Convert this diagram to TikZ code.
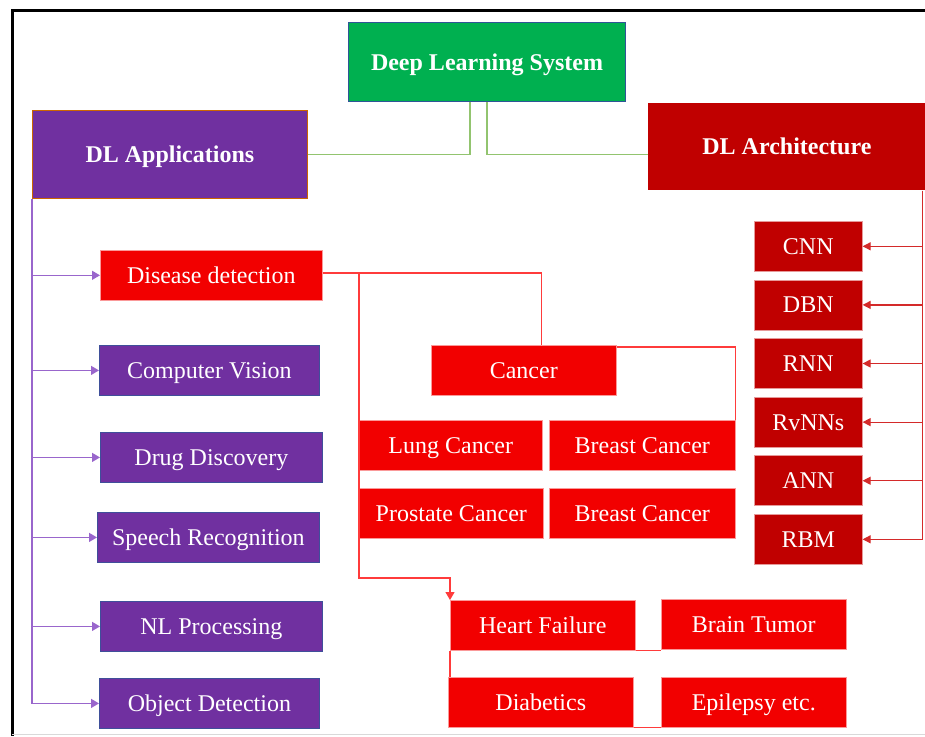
\documentclass[tikz,border=0pt]{standalone}
\usepackage{fontspec}
\setmainfont{Liberation Serif}
\usepackage{xcolor}
\usepackage{tikz}
\usetikzlibrary{positioning, arrows.meta}
\definecolor{sysGreen}{HTML}{00B050}
\definecolor{sysEdge}{HTML}{2F5597}
\definecolor{sysLine}{HTML}{92C46F}
\definecolor{appPurple}{HTML}{7030A0}
\definecolor{appEdge}{HTML}{3F4F9A}
\definecolor{appLine}{HTML}{9966CC}
\definecolor{archRed}{HTML}{C00000}
\definecolor{archLine}{HTML}{D42A2A}
\definecolor{disRed}{HTML}{F20000}
\definecolor{disLine}{HTML}{FF3B3B}

\tikzset{
  box/.style={anchor=north west, text=white, inner sep=1pt, text height=10pt, text depth=2pt, font=\fontsize{12}{14}\selectfont},
  headbox/.style={box, font=\fontsize{12}{14}\selectfont\bfseries},
  appbox/.style={box, fill=appPurple, draw=appEdge, line width=0.4pt, minimum width=111pt, minimum height=25pt},
  disbox/.style={box, fill=disRed, draw=disRed!40, line width=0.3pt, minimum width=92.5pt, minimum height=25pt},
  archbox/.style={box, fill=archRed, draw=archRed!40, line width=0.3pt, minimum width=54pt, minimum height=25pt},
  sysline/.style={draw=sysLine, line width=0.9pt},
  appline/.style={draw=appLine, line width=0.7pt, -{Triangle[width=4.5pt, length=4pt]}},
  disline/.style={draw=disLine, line width=0.6pt},
  archline/.style={draw=archLine, line width=0.6pt, -{Triangle[width=4pt, length=4pt]}}
}

\begin{document}
\begin{tikzpicture}[x=0.5pt, y=-0.5pt, node distance=4pt]
\useasboundingbox (0,0) rectangle (925,736);
\draw[line width=1.5pt] (12,736) -- (12,10) -- (925,10);
\draw[black!15, line width=0.4pt] (12,734) -- (925,734);

\node[headbox, fill=sysGreen, draw=sysEdge, line width=0.5pt, minimum width=138.5pt, minimum height=39.5pt] at (348,22)
  (sys) {Deep Learning System};
\node[headbox, fill=appPurple, draw=orange!80!black, line width=0.4pt, minimum width=137.5pt, minimum height=44pt] at (32,110)
  (apps) {DL Applications};
\node[headbox, fill=archRed, minimum width=138.5pt, minimum height=43.5pt] at (648,103)
  (arch) {DL Architecture};

\node[disbox, minimum width=111pt] at (100,250) (disease) {Disease detection};
\node[appbox, minimum width=110pt] at (99,345) (vision) {Computer Vision};
\node[appbox] at (100,432) (drug) {Drug Discovery};
\node[appbox] at (97,512) (speech) {Speech Recognition};
\node[appbox] at (100,601) (nlp) {NL Processing};
\node[appbox, minimum width=110pt] at (99,678) (objdet) {Object Detection};

\node[archbox] at (754,221) (cnn) {CNN};
\node[archbox, below=of cnn] (dbn) {DBN};
\node[archbox, below=of dbn] (rnn) {RNN};
\node[archbox, below=of rnn] (rvnn) {RvNNs};
\node[archbox, below=of rvnn] (ann) {ANN};
\node[archbox, below=of ann] (rbm) {RBM};

\node[disbox] at (431,345) (cancer) {Cancer};
\node[disbox, minimum width=91.5pt] at (359,420) (lung) {Lung Cancer};
\node[disbox, minimum width=93pt] at (549,420) (breastA) {Breast Cancer};
\node[disbox, minimum width=92pt] at (359,488) (prostate) {Prostate Cancer};
\node[disbox, minimum width=93pt] at (549,488) (breastB) {Breast Cancer};
\node[disbox] at (450,600) (heart) {Heart Failure};
\node[disbox] at (661,599) (brain) {Brain Tumor};
\node[disbox] at (448,677) (diab) {Diabetics};
\node[disbox] at (661,677) (epil) {Epilepsy etc.};

\draw[sysline] ([xshift=-8.5pt]sys.south) |- (apps.east);
\draw[sysline] (sys.south) |- (apps.east -| arch.west);

\foreach \n in {disease, vision, drug, speech, nlp, objdet}
  \draw[appline] (apps.south west) |- (\n.west);
\foreach \n in {cnn, dbn, rnn, rvnn, ann, rbm}
  \draw[archline] ([xshift=-1.5pt]arch.south east) |- (\n.east);

\coordinate (split) at (359,273);
\draw[disline] (disease.east |- split) -| ([xshift=9pt]cancer.north);
\draw[disline, -{Triangle[width=4.5pt, length=4pt]}] (split) |- ([yshift=11pt]heart.north west) -- (heart.north west);
\draw[disline] ([yshift=-1pt]cancer.north east) -| (breastA.north east);
\draw[disline] (heart.south west) -- (heart.south west |- diab.north);
\draw[disline] (heart.south east) -- (heart.south east -| brain.west);
\draw[disline] (diab.south east) -- (diab.south east -| epil.west);
\end{tikzpicture}
\end{document}
